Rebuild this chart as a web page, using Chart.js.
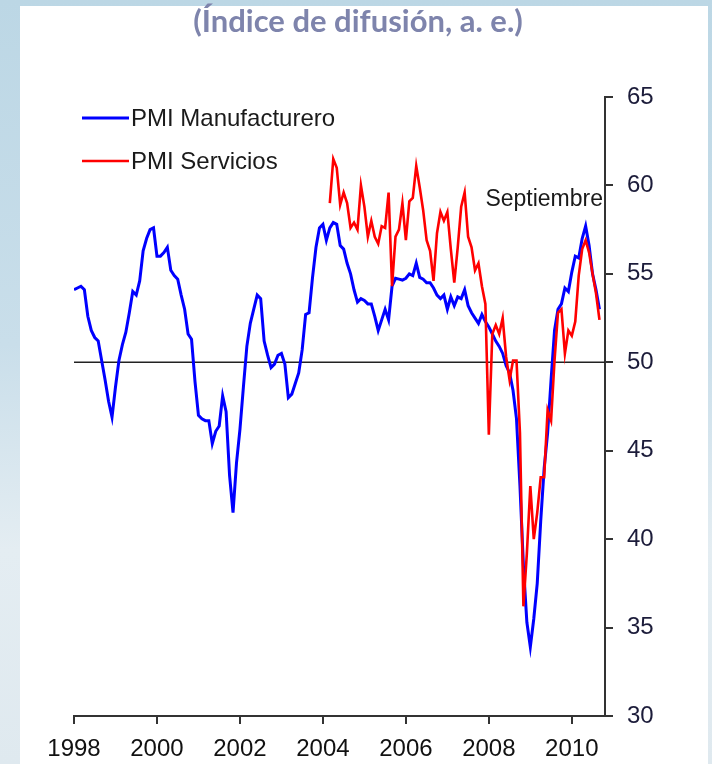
<!DOCTYPE html>
<html>
<head>
<meta charset="utf-8">
<script src="https://cdn.jsdelivr.net/npm/chart.js@4.4.1/dist/chart.umd.min.js"></script>
<style>
  html, body { margin: 0; padding: 0; }
  #wrap { position: relative; width: 712px; height: 764px; overflow: hidden;
          background: linear-gradient(180deg, #bcd7e5 0%, #c9deea 45%, #e4edf2 72%, #dfe9ef 100%); }
  #panel { position: absolute; left: 20px; top: 6px; right: 4px; bottom: 0; background: #ffffff; }
  #c { position: absolute; left: 0; top: 0; }
</style>
</head>
<body>
<div id="wrap">
  <div id="panel"></div>
  <canvas id="c" width="712" height="764"></canvas>
</div>
<script>
// ---- Data (monthly, starting January 1998) ----
const startYear = 1998;
const title = "(Índice de difusión, a. e.)";
const seriesNames = ["PMI Manufacturero", "PMI Servicios"];
const annotationText = "Septiembre";
const tickYears = [1998, 2000, 2002, 2004, 2006, 2008, 2010];
const yTicks = [30, 35, 40, 45, 50, 55, 60, 65];
const refValue = 50;

// PMI Manufacturero: Jan 1998 - Sep 2010
const manufacturero = [
  54.1, 54.2, 54.3, 54.1, 52.6, 51.8, 51.4, 51.2, 50.1, 49.0, 47.8, 46.9,
  48.6, 50.1, 51.0, 51.7, 52.8, 54.0, 53.8, 54.6, 56.3, 57.0, 57.5, 57.6,
  56.0, 56.0, 56.2, 56.5, 55.2, 54.9, 54.7, 53.8, 53.0, 51.6, 51.3, 48.9,
  47.0, 46.8, 46.7, 46.7, 45.4, 46.1, 46.4, 48.1, 47.2, 43.6, 41.5, 44.3,
  46.2, 48.6, 50.9, 52.2, 53.0, 53.8, 53.6, 51.2, 50.4, 49.7, 49.9, 50.4,
  50.5, 49.9, 48.0, 48.2, 48.8, 49.4, 50.7, 52.7, 52.8, 54.8, 56.5, 57.6,
  57.8, 56.9, 57.6, 57.9, 57.8, 56.6, 56.4, 55.6, 55.0, 54.1, 53.4, 53.6,
  53.5, 53.3, 53.3, 52.6, 51.8, 52.4, 53.0, 52.4, 54.3, 54.75, 54.7, 54.65,
  54.75, 55.0, 54.9, 55.6, 54.8, 54.7, 54.5, 54.5, 54.2, 53.8, 53.6, 53.8,
  53.0, 53.7, 53.2, 53.7, 53.6, 54.1, 53.2, 52.8, 52.5, 52.2, 52.7, 52.3,
  52.0, 51.6, 51.2, 50.9, 50.5, 49.8, 49.4, 48.4, 46.8, 43.0, 38.5, 35.3,
  33.9, 35.5, 37.5, 41.0, 44.0, 46.0, 49.0, 51.8, 53.0, 53.3, 54.2, 54.0,
  55.1, 56.0, 55.9, 57.0, 57.7, 56.6, 55.0, 54.1, 53.0
];

// PMI Servicios: Mar 2004 - Sep 2010 (month index 74 from Jan 1998)
const serviciosStart = 74;
const servicios = [
  59.0, 61.5, 61.0, 58.9, 59.6, 59.0, 57.6, 57.9, 57.5, 60.0,
  58.8, 57.1, 58.0, 57.1, 56.7, 57.7, 57.6, 59.6, 54.3, 57.1,
  57.5, 59.0, 56.9, 59.1, 59.3, 61.1, 59.9, 58.6, 56.9, 56.3,
  54.6, 57.3, 58.5, 58.0, 58.5, 56.4, 54.5, 56.5, 58.8, 59.6,
  57.1, 56.5, 55.2, 55.6, 54.3, 53.3, 45.9, 51.6, 52.1, 51.6,
  52.5, 50.3, 49.0, 50.1, 50.1, 46.0, 36.2, 39.2, 43.0, 40.0,
  41.5, 43.5, 43.5, 47.3, 46.7, 50.1, 52.8, 53.0, 50.5, 51.8,
  51.5, 52.3, 54.9, 56.4, 56.9, 56.2, 55.0, 53.9, 52.4
];

const FONT = "'Liberation Sans', Arial, sans-serif";

const decorPlugin = {
  id: 'decor',
  beforeDatasetsDraw(chart) {
    const { ctx, chartArea, scales } = chart;
    const y = scales.y.getPixelForValue(refValue);
    ctx.save();
    ctx.strokeStyle = '#222222';
    ctx.lineWidth = 1.6;
    ctx.beginPath();
    ctx.moveTo(chartArea.left, y);
    ctx.lineTo(chartArea.right, y);
    ctx.stroke();
    ctx.restore();
  },
  afterDraw(chart) {
    const { ctx } = chart;
    ctx.save();
    // title
    ctx.fillStyle = '#7e84ac';
    ctx.font = "bold 31px Lato, 'Open Sans', sans-serif";
    ctx.textAlign = 'center';
    ctx.textBaseline = 'middle';
    ctx.fillText(title, 358, 22);
    // legend
    const rows = [118, 161];
    chart.data.datasets.forEach((ds, i) => {
      ctx.strokeStyle = ds.borderColor;
      ctx.lineWidth = ds.borderWidth;
      ctx.beginPath();
      ctx.moveTo(82, rows[i]);
      ctx.lineTo(129, rows[i]);
      ctx.stroke();
      ctx.fillStyle = '#1a1a1a';
      ctx.font = '24px ' + FONT;
      ctx.textAlign = 'left';
      ctx.textBaseline = 'middle';
      ctx.fillText(ds.label, 131, rows[i] + 1);
    });
    // annotation
    ctx.fillStyle = '#1a1a1a';
    ctx.font = '23px ' + FONT;
    ctx.textAlign = 'right';
    ctx.textBaseline = 'middle';
    ctx.fillText(annotationText, 603, 200);
    ctx.restore();
  }
};

new Chart(document.getElementById('c'), {
  type: 'line',
  data: {
    datasets: [
      {
        label: seriesNames[0],
        data: manufacturero.map((v, i) => ({ x: i, y: v })),
        borderColor: '#0000ff',
        borderWidth: 3,
        pointRadius: 0,
        tension: 0,
        order: 2
      },
      {
        label: seriesNames[1],
        data: servicios.map((v, i) => ({ x: serviciosStart + i, y: v })),
        borderColor: '#ff0000',
        borderWidth: 2.6,
        pointRadius: 0,
        tension: 0,
        order: 1
      }
    ]
  },
  options: {
    responsive: false,
    animation: false,
    devicePixelRatio: 1,
    layout: { padding: { left: 74, top: 97, right: 0, bottom: 0 } },
    plugins: { legend: { display: false }, tooltip: { enabled: false } },
    scales: {
      x: {
        type: 'linear',
        position: 'bottom',
        min: 0,
        max: 153.6,
        afterBuildTicks: (s) => { s.ticks = tickYears.map(y => ({ value: (y - startYear) * 12 })); },
        afterFit: (s) => { s.height = 48; },
        ticks: {
          callback: (v) => String(startYear + Math.round(v / 12)),
          color: '#111111',
          font: { family: FONT, size: 24 },
          padding: 11,
          maxRotation: 0,
          autoSkip: false
        },
        grid: { drawOnChartArea: false, drawTicks: true, tickLength: 8, color: '#333333', lineWidth: 2 },
        border: { display: true, color: '#333333', width: 2 }
      },
      y: {
        type: 'linear',
        position: 'right',
        min: 30,
        max: 65,
        afterBuildTicks: (s) => { s.ticks = yTicks.map(v => ({ value: v })); },
        afterFit: (s) => { s.width = 107; },
        ticks: {
          color: '#1c1c3a',
          font: { family: FONT, size: 24 },
          padding: 14
        },
        grid: { drawOnChartArea: false, drawTicks: true, tickLength: 8, color: '#333333', lineWidth: 2 },
        border: { display: true, color: '#333333', width: 2 }
      }
    }
  },
  plugins: [decorPlugin]
});
</script>
</body>
</html>
